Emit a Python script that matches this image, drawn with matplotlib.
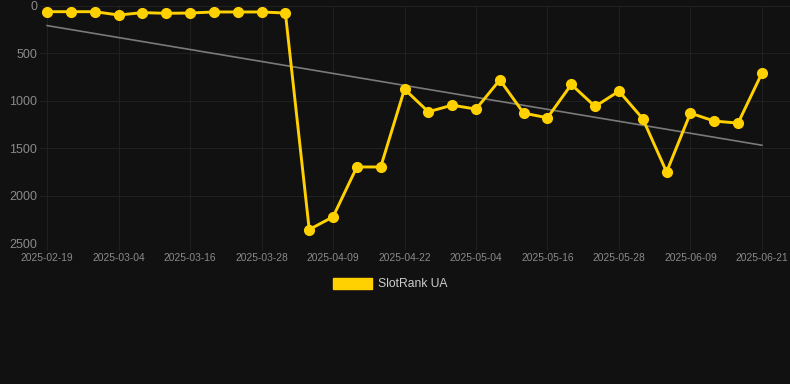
import matplotlib
matplotlib.use("Agg")
import matplotlib.pyplot as plt
from matplotlib.patches import Patch
import numpy as np

plt.rcParams['font.family'] = ['Liberation Sans', 'DejaVu Sans']

rank = [60, 60, 60, 95, 70, 77, 74, 63, 63, 63, 74,
        2358, 2224, 1698, 1698, 877, 1116, 1046, 1088, 779, 1130,
        1179, 828, 1060, 898, 1189, 1751, 1130, 1214, 1235, 709]
tick_labels = ["2025-02-19", "2025-03-04", "2025-03-16", "2025-03-28", "2025-04-09",
               "2025-04-22", "2025-05-04", "2025-05-16", "2025-05-28", "2025-06-09",
               "2025-06-21"]
y_ticks = [0, 500, 1000, 1500, 2000, 2500]

bg = "#111111"
W, H = 790, 384
fig = plt.figure(figsize=(W / 100, H / 100), dpi=100, facecolor=bg)
ax = fig.add_axes([40 / W, 1 - 243 / H, (790 - 40) / W, (243 - 6) / H], facecolor=bg)

x = np.arange(len(rank))
coef = np.polyfit(x, rank, 1)
ax.plot([x[0], x[-1]], np.polyval(coef, [x[0], x[-1]]), color="#7a7a7a", lw=1.2, zorder=2)
ax.plot(x, rank, color="#FFD100", lw=2.1, marker="o", ms=7, zorder=3,
        markerfacecolor="#FFD100", markeredgecolor="#FFD100")

ax.set_ylim(2500, 0)
ax.set_xlim(-0.3, 31.18)
ax.set_yticks(y_ticks)
ax.set_yticklabels([str(v) for v in y_ticks])
ax.set_xticks(x[::3])
ax.set_xticklabels(tick_labels)
ax.tick_params(axis="y", colors="#8a8a8a", labelsize=9, length=0, pad=2)
ax.tick_params(axis="x", colors="#8a8a8a", labelsize=7.4, length=5, pad=2, width=0.8)
ax.tick_params(axis="x", color="#1f1f1f")
ax.grid(True, color="#202020", lw=0.8)
ax.set_axisbelow(True)
for s in ax.spines.values():
    s.set_visible(False)
ax.axhline(2500, color="#262626", lw=0.8, zorder=1)

handle = Patch(facecolor="#FFD100", edgecolor="#FFD100")
leg = fig.legend([handle], ["SlotRank UA"], loc="center", bbox_to_anchor=(390 / W, 1 - 284 / H),
                 frameon=False, fontsize=8.7, handlelength=3.3, handleheight=1.0,
                 handletextpad=0.45, labelcolor="#cccccc")

fig.savefig("out.png", dpi=100, facecolor=bg)
